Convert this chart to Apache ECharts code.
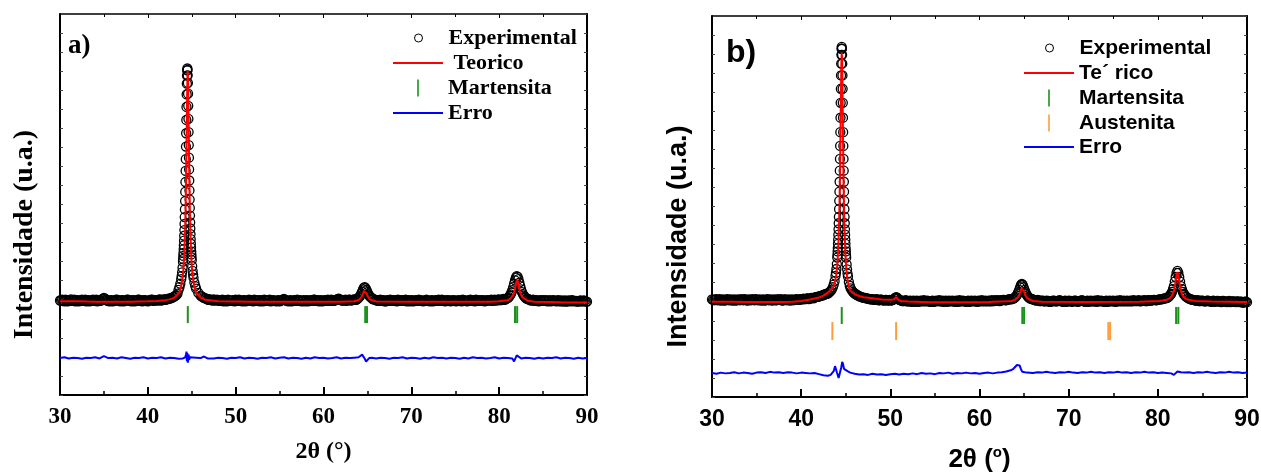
<!DOCTYPE html>
<html>
<head>
<meta charset="utf-8">
<title>DRX</title>
<script src="https://cdn.jsdelivr.net/npm/echarts@6/dist/echarts.min.js"></script>
<style>
  html, body { margin: 0; padding: 0; background: #fff; }
  #main { width: 1261px; height: 473px; }
</style>
</head>
<body>
<div id="main"></div>
<script>
// ---- painel a) : [2theta, intensidade (u.a.)] ----
var expA = [
  [30,24.8],[30.25,25.0],[30.5,24.6],[30.75,24.9],[31,24.7],[31.25,25.1],[31.5,24.8],[31.75,24.6],[32,24.9],[32.25,24.7],
  [32.5,25.0],[32.75,24.8],[33,24.6],[33.25,24.9],[33.5,24.7],[33.75,25.0],[34,24.8],[34.25,24.6],[34.5,24.9],[34.75,25.1],
  [35,25.5],[35.25,24.9],[35.5,24.7],[35.75,24.9],[36,24.6],[36.25,24.8],[36.5,25.0],[36.75,24.7],[37,24.9],[37.25,24.6],
  [37.5,24.8],[37.75,25.0],[38,24.7],[38.25,24.9],[38.5,24.6],[38.75,24.8],[39,25.0],[39.25,24.7],[39.5,24.9],[39.75,24.8],
  [40,24.6],[40.25,24.9],[40.5,25.0],[40.75,24.8],[41,24.9],[41.25,25.0],[41.5,24.8],[41.75,25.1],[42,25.0],[42.25,25.2],
  [42.5,25.3],[42.75,25.5],[43,25.8],[43.25,26.2],
  [43.5,27.6],[43.6,28.3],[43.7,29.2],[43.8,30.4],[43.85,31.2],[43.9,32.2],[43.95,33.4],[44.0,35.0],[44.02,35.7],[44.04,36.5],
  [44.06,37.3],[44.08,38.3],[44.1,39.3],[44.12,40.5],[44.14,41.8],[44.16,43.3],[44.18,44.9],[44.2,46.7],[44.22,48.7],[44.24,50.9],
  [44.26,53.3],[44.28,55.9],[44.3,58.8],[44.32,61.9],[44.34,65.2],[44.36,68.7],[44.38,72.2],[44.4,75.6],[44.42,78.9],[44.44,81.7],
  [44.46,83.8],[44.48,85.2],[44.5,85.7],[44.52,85.3],[44.54,83.9],[44.56,81.9],[44.58,79.1],[44.6,75.9],[44.62,72.5],[44.64,69.0],
  [44.66,65.6],[44.68,62.3],[44.7,59.2],[44.72,56.3],[44.74,53.7],[44.76,51.3],[44.78,49.1],[44.8,47.1],[44.82,45.3],[44.84,43.7],
  [44.86,42.2],[44.88,40.9],[44.9,39.7],[44.92,38.7],[44.94,37.7],[44.96,36.9],[44.98,36.1],[45.0,35.4],[45.05,33.8],[45.1,32.6],
  [45.15,31.6],[45.2,30.8],[45.3,29.5],[45.4,28.6],[45.5,27.9],[45.75,26.8],[46,26.1],[46.25,25.7],[46.5,25.4],[46.75,25.2],
  [47,25.0],[47.25,24.9],[47.5,25.1],[47.75,24.8],[48,24.9],[48.25,24.7],[48.5,25.0],[48.75,24.8],[49,24.6],[49.25,24.9],
  [49.5,24.7],[49.75,24.9],[50,25.0],[50.25,24.7],[50.5,24.8],[50.75,24.6],[51,24.9],[51.25,24.7],[51.5,25.0],[51.75,24.8],
  [52,24.6],[52.25,24.9],[52.5,24.8],[52.75,24.6],[53,24.9],[53.25,25.0],[53.5,24.7],[53.75,24.8],[54,24.6],[54.25,24.9],
  [54.5,24.7],[54.75,24.8],[55,24.6],[55.25,24.9],[55.5,25.2],[55.75,24.8],[56,24.6],[56.25,24.9],[56.5,24.7],[56.75,24.8],
  [57,25.0],[57.25,24.7],[57.5,24.6],[57.75,24.9],[58,24.8],[58.25,24.6],[58.5,24.9],[58.75,24.7],[59,25.0],[59.25,24.8],
  [59.5,24.6],[59.75,24.9],[60,24.7],[60.25,24.8],[60.5,25.0],[60.75,24.7],[61,24.9],[61.25,24.8],[61.5,25.0],[61.75,25.3],
  [62,24.9],[62.25,24.8],[62.5,25.0],[62.75,24.9],[63,25.0],[63.25,24.9],[63.5,25.1],
  [63.7,25.0],[63.8,25.1],[63.9,25.3],[64.0,25.5],[64.1,25.8],[64.2,26.1],[64.3,26.6],[64.4,27.1],[64.5,27.7],[64.6,28.2],
  [64.7,28.3],[64.8,28.0],[64.9,27.5],[65.0,27.0],[65.1,26.5],[65.2,26.1],[65.3,25.8],[65.4,25.6],[65.5,25.4],[65.6,25.2],
  [65.7,25.1],[65.9,25.0],[66.1,24.8],[66.35,24.9],[66.6,24.7],[66.85,24.9],[67.1,24.6],[67.35,24.8],[67.6,25.0],[67.85,24.7],
  [68.1,24.9],[68.35,24.6],[68.6,24.8],[68.85,24.9],[69.1,24.7],[69.35,25.0],[69.6,24.8],[69.85,24.6],[70.1,24.9],[70.35,24.7],
  [70.6,24.8],[70.85,25.0],[71.1,24.7],[71.35,24.6],[71.6,24.9],[71.85,24.8],[72.1,24.6],[72.35,24.9],[72.6,24.7],[72.85,24.8],
  [73.1,25.0],[73.35,24.7],[73.6,24.9],[73.85,24.6],[74.1,24.8],[74.35,24.9],[74.6,24.7],[74.85,24.8],[75.1,24.6],[75.35,24.9],
  [75.6,24.7],[75.85,25.0],[76.1,24.8],[76.35,24.6],[76.6,24.9],[76.85,24.7],[77.1,24.8],[77.35,25.0],[77.6,24.7],[77.85,24.9],
  [78.1,24.8],[78.35,24.6],[78.6,24.9],[78.85,24.8],[79.1,25.0],[79.35,24.8],[79.6,24.9],[79.85,25.0],[80.1,24.9],[80.35,25.1],
  [80.6,25.0],[80.85,25.3],
  [81.0,25.5],[81.1,25.7],[81.2,26.0],[81.3,26.4],[81.4,26.9],[81.5,27.5],[81.6,28.3],[81.7,29.2],[81.8,30.1],[81.9,30.8],
  [82.0,31.2],[82.1,31.0],[82.2,30.4],[82.3,29.5],[82.4,28.6],[82.5,27.7],[82.6,27.0],[82.7,26.5],[82.8,26.1],[82.9,25.8],
  [83.0,25.5],[83.25,25.2],[83.5,25.0],[83.75,24.9],[84,24.7],[84.25,24.9],[84.5,24.6],[84.75,24.8],[85,24.9],[85.25,24.7],
  [85.5,24.6],[85.75,24.9],[86,24.7],[86.25,24.8],[86.5,24.6],[86.75,24.9],[87,24.7],[87.25,24.5],[87.5,24.8],[87.75,24.6],
  [88,24.7],[88.25,24.9],[88.5,24.6],[88.75,24.7],[89,24.5],[89.25,24.8],[89.5,24.6],[89.75,24.7],[90,24.5],
  // intermediate scan points on the background
  [30.125,24.9],[30.375,24.7],[30.625,25.0],[30.875,24.6],[31.125,24.9],[31.375,24.7],[31.625,25.0],[31.875,24.8],[32.125,24.6],[32.375,24.9],
  [32.625,24.7],[32.875,25.0],[33.125,24.8],[33.375,24.6],[33.625,24.9],[33.875,24.7],[34.125,25.0],[34.375,24.8],[34.625,24.7],[34.875,25.2],
  [35.125,25.3],[35.375,24.8],[35.625,24.6],[35.875,24.9],[36.125,24.7],[36.375,25.0],[36.625,24.8],[36.875,24.6],[37.125,24.9],[37.375,24.7],
  [37.625,25.0],[37.875,24.8],[38.125,24.6],[38.375,24.9],[38.625,24.7],[38.875,25.0],[39.125,24.8],[39.375,24.6],[39.625,24.9],[39.875,24.7],
  [40.125,24.8],[40.375,25.0],[40.625,24.7],[40.875,24.9],[41.125,24.8],[41.375,25.1],[41.625,24.9],[41.875,25.0],[42.125,25.1],[42.375,25.3],
  [42.625,25.4],[42.875,25.7],[43.125,26.0],[43.375,26.6],
  [46.125,25.9],[46.375,25.5],[46.625,25.3],[46.875,25.0],[47.125,25.1],[47.375,24.8],[47.625,24.9],[47.875,25.0],[48.125,24.7],[48.375,24.9],
  [48.625,24.6],[48.875,24.8],[49.125,25.0],[49.375,24.7],[49.625,24.8],[49.875,24.6],[50.125,24.9],[50.375,25.0],[50.625,24.7],[50.875,24.9],
  [51.125,24.6],[51.375,24.8],[51.625,24.9],[51.875,24.7],[52.125,25.0],[52.375,24.7],[52.625,24.9],[52.875,24.8],[53.125,24.6],[53.375,24.9],
  [53.625,24.8],[53.875,25.0],[54.125,24.7],[54.375,24.8],[54.625,24.6],[54.875,24.9],[55.125,24.7],[55.375,25.0],[55.625,24.9],[55.875,24.7],
  [56.125,24.8],[56.375,24.6],[56.625,24.9],[56.875,24.7],[57.125,24.8],[57.375,24.9],[57.625,24.7],[57.875,24.6],[58.125,24.9],[58.375,24.7],
  [58.625,24.8],[58.875,25.0],[59.125,24.7],[59.375,24.9],[59.625,24.8],[59.875,24.6],[60.125,24.9],[60.375,24.7],[60.625,24.8],[60.875,25.0],
  [61.125,24.7],[61.375,24.9],[61.625,25.2],[61.875,25.0],[62.125,24.8],[62.375,24.9],[62.625,24.7],[62.875,25.0],[63.125,24.8],[63.375,25.0],
  [63.6,25.0],
  [66.0,24.9],[66.225,24.7],[66.475,25.0],[66.725,24.8],[66.975,24.6],[67.225,24.9],[67.475,24.7],[67.725,24.9],[67.975,24.8],[68.225,24.7],
  [68.475,25.0],[68.725,24.7],[68.975,24.8],[69.225,24.9],[69.475,24.6],[69.725,24.9],[69.975,24.8],[70.225,24.6],[70.475,24.9],[70.725,24.7],
  [70.975,24.9],[71.225,24.8],[71.475,24.7],[71.725,25.0],[71.975,24.7],[72.225,24.8],[72.475,24.6],[72.725,24.9],[72.975,24.7],[73.225,24.8],
  [73.475,25.0],[73.725,24.7],[73.975,24.9],[74.225,24.7],[74.475,24.6],[74.725,24.9],[74.975,24.8],[75.225,24.7],[75.475,24.8],[75.725,24.6],
  [75.975,24.9],[76.225,24.7],[76.475,24.8],[76.725,25.0],[76.975,24.8],[77.225,24.6],[77.475,24.9],[77.725,24.8],[77.975,24.7],[78.225,24.9],
  [78.475,24.7],[78.725,24.8],[78.975,24.9],[79.225,24.7],[79.475,25.0],[79.725,24.8],[79.975,25.1],[80.225,24.9],[80.475,25.2],[80.725,25.1],
  [80.925,25.4],
  [83.125,25.3],[83.375,25.1],[83.625,24.8],[83.875,25.0],[84.125,24.8],[84.375,24.7],[84.625,24.9],[84.875,24.7],[85.125,24.8],[85.375,24.9],
  [85.625,24.7],[85.875,24.6],[86.125,24.9],[86.375,24.7],[86.625,24.8],[86.875,24.6],[87.125,24.8],[87.375,24.7],[87.625,24.5],[87.875,24.8],
  [88.125,24.6],[88.375,24.8],[88.625,24.7],[88.875,24.5],[89.125,24.7],[89.375,24.6],[89.625,24.8],[89.875,24.5]
];
var calcA = [
  [30,24.6],[32,24.6],[34,24.5],[36,24.5],[38,24.5],[40,24.6],[41,24.7],[42,24.9],[42.5,25.1],[43,25.5],
  [43.54,26.7],[43.74,28.0],[43.94,30.5],[44.04,32.8],[44.14,36.5],[44.24,43.1],[44.29,48.0],[44.34,54.7],[44.39,63.2],[44.44,72.9],
  [44.47,77.6],[44.49,81.4],[44.52,84.1],[44.54,85.0],[44.56,84.1],[44.59,81.4],[44.61,77.6],[44.64,72.9],[44.69,63.2],[44.74,54.7],
  [44.79,48.0],[44.84,43.1],[44.94,36.5],[45.04,32.8],[45.14,30.5],[45.34,28.0],[45.54,26.7],[46.04,25.5],[46.54,25.0],[48,24.6],
  [52,24.5],[56,24.5],[60,24.5],[62,24.5],[63.5,24.6],[64,24.95],[64.3,25.6],[64.4,26.0],[64.5,26.6],[64.6,27.3],
  [64.7,27.6],[64.8,27.3],[64.9,26.6],[65,26.0],[65.1,25.6],[65.3,25.05],[65.5,24.8],[66,24.55],[70,24.5],[75,24.45],
  [79,24.5],[80,24.6],[81,24.9],[81.3,25.3],[81.5,25.7],[81.65,26.5],[81.75,27.3],[81.85,28.4],[81.95,29.6],[82.05,30.2],
  [82.15,29.6],[82.25,28.4],[82.35,27.3],[82.45,26.5],[82.65,25.6],[82.85,25.1],[83.25,24.75],[84,24.5],[87,24.35],[90,24.3]
];
var errA = [
  [30,9.7],[30.5,9.9],[31,9.6],[31.5,9.8],[32,9.7],[32.5,9.5],[33,9.8],[33.5,9.7],[34,9.9],[34.5,9.6],
  [35,10.2],[35.5,9.7],[36,9.8],[36.5,9.6],[37,9.9],[37.5,9.7],[38,9.5],[38.5,9.8],[39,9.7],[39.5,9.9],
  [40,9.6],[40.5,9.8],[41,9.7],[41.5,9.9],[42,9.6],[42.5,9.8],[43,9.7],[43.5,9.5],[44,9.6],[44.25,9.9],
  [44.35,10.6],[44.4,11.4],[44.45,8.9],[44.5,11.0],[44.55,8.5],[44.6,9.2],[44.65,10.6],[44.7,9.3],[44.8,9.9],[45,9.6],
  [45.5,9.8],[46,9.7],[46.4,10.1],[46.8,9.6],[47,9.8],[47.5,9.6],[48,9.8],[48.5,9.7],[49,9.5],[49.5,9.8],
  [50,9.7],[50.5,9.9],[51,9.6],[51.5,9.8],[52,9.7],[52.5,9.5],[53,9.8],[53.5,9.7],[54,9.9],[54.5,9.6],
  [55,9.8],[55.5,9.9],[56,9.6],[56.5,9.8],[57,9.7],[57.5,9.5],[58,9.8],[58.5,9.6],[59,9.9],[59.5,9.7],
  [60,9.8],[60.5,9.6],[61,9.7],[61.5,9.9],[62,9.6],[62.5,9.8],[63,9.7],[63.5,9.8],[64,9.9],[64.2,10.2],
  [64.4,10.6],[64.55,10.3],[64.7,9.5],[64.85,8.8],[65,9.3],[65.2,9.7],[65.5,9.8],[66,9.6],[66.5,9.8],[67,9.7],
  [67.5,9.5],[68,9.8],[68.5,9.7],[69,9.9],[69.5,9.6],[70,9.8],[70.5,9.7],[71,9.5],[71.5,9.8],[72,9.6],
  [72.5,9.9],[73,9.7],[73.5,9.8],[74,9.6],[74.5,9.8],[75,9.7],[75.5,9.5],[76,9.8],[76.5,9.6],[77,9.9],
  [77.5,9.7],[78,9.8],[78.5,9.6],[79,9.7],[79.5,9.9],[80,9.6],[80.5,9.8],[81,9.7],[81.5,9.6],[81.7,8.8],
  [81.8,9.2],[82,10.4],[82.1,10.8],[82.25,10.0],[82.5,9.6],[83,9.8],[83.5,9.7],[84,9.5],[84.5,9.8],[85,9.6],
  [85.5,9.8],[86,9.7],[86.5,9.9],[87,9.6],[87.5,9.8],[88,9.7],[88.5,9.5],[89,9.8],[89.5,9.6],[90,9.7]
];
var marA = [44.55, 64.75, 64.95, 81.8, 82.05];
var marLevelA = 21.1;

// ---- painel b) ----
var expB = [
  [30,25.6],[30.25,25.4],[30.5,25.7],[30.75,25.5],[31,25.3],[31.25,25.6],[31.5,25.4],[31.75,25.7],[32,25.5],[32.25,25.3],
  [32.5,25.6],[32.75,25.4],[33,25.5],[33.25,25.7],[33.5,25.4],[33.75,25.6],[34,25.3],[34.25,25.5],[34.5,25.7],[34.75,25.4],
  [35,25.6],[35.25,25.5],[35.5,25.3],[35.75,25.6],[36,25.4],[36.25,25.7],[36.5,25.5],[36.75,25.3],[37,25.6],[37.25,25.4],
  [37.5,25.5],[37.75,25.7],[38,25.4],[38.25,25.6],[38.5,25.5],[38.75,25.3],[39,25.6],[39.25,25.5],[39.5,25.7],[39.75,25.5],
  [40,25.6],[40.25,25.8],[40.5,25.7],[40.75,25.9],[41,25.8],[41.25,26.0],[41.5,26.1],[41.75,26.3],[42,26.4],[42.25,26.6],
  [42.5,26.8],[42.75,27.0],[43.05,27.2],[43.3,27.8],[43.55,28.8],[43.65,29.5],[43.75,30.4],[43.85,31.8],[43.9,32.6],[43.95,33.6],
  [44.0,34.9],[44.05,36.6],[44.07,37.3],[44.09,38.2],[44.11,39.1],[44.13,40.2],[44.15,41.3],[44.17,42.6],[44.19,44.0],[44.21,45.6],
  [44.23,47.3],[44.25,49.3],[44.27,51.5],[44.29,53.9],[44.31,56.5],[44.33,59.4],[44.35,62.5],[44.37,65.9],[44.39,69.5],[44.41,73.3],
  [44.43,77.2],[44.45,80.9],[44.47,84.4],[44.49,87.5],[44.51,89.8],[44.53,91.4],[44.55,91.9],[44.57,91.4],[44.59,89.8],[44.61,87.5],
  [44.63,84.4],[44.65,80.9],[44.67,77.2],[44.69,73.3],[44.71,69.5],[44.73,65.9],[44.75,62.5],[44.77,59.4],[44.79,56.5],[44.81,53.9],
  [44.83,51.5],[44.85,49.3],[44.87,47.3],[44.89,45.6],[44.91,44.0],[44.93,42.6],[44.95,41.3],[44.97,40.2],[44.99,39.1],[45.01,38.2],
  [45.03,37.3],[45.05,36.6],[45.1,34.8],[45.15,33.5],[45.2,32.4],[45.25,31.6],[45.35,30.2],[45.45,29.2],[45.55,28.5],[45.8,27.6],
  [46.05,27.1],[46.3,26.7],[46.55,26.4],[46.8,26.2],[47.05,26.0],[47.3,25.9],[47.55,25.8],[47.8,25.6],[48.05,25.7],[48.3,25.5],
  [48.55,25.6],[48.8,25.4],[49.05,25.5],[49.3,25.3],[49.55,25.5],[49.8,25.4],[50.05,25.3],[50.3,25.5],[50.45,25.8],[50.55,26.0],
  [50.65,26.2],[50.75,26.1],[50.85,25.8],[51.0,25.5],[51.25,25.3],[51.5,25.2],[51.75,25.4],[52,25.1],[52.25,25.3],[52.5,25.2],
  [52.75,25.0],[53,25.3],[53.25,25.1],[53.5,25.2],[53.75,25.4],[54,25.1],[54.25,25.2],[54.5,25.0],[54.75,25.3],[55,25.1],
  [55.25,25.2],[55.5,25.4],[55.75,25.1],[56,25.0],[56.25,25.3],[56.5,25.2],[56.75,25.1],[57,25.3],[57.25,25.0],[57.5,25.2],
  [57.75,25.4],[58,25.1],[58.25,25.2],[58.5,25.0],[58.75,25.3],[59,25.2],[59.25,25.1],[59.5,25.3],[59.75,25.0],[60,25.2],
  [60.25,25.4],[60.5,25.1],[60.75,25.2],[61,25.3],[61.25,25.1],[61.5,25.2],[61.75,25.4],[62,25.3],[62.25,25.2],[62.5,25.4],
  [62.75,25.5],[63,25.4],[63.25,25.6],[63.5,25.6],
  [63.75,25.8],[63.85,25.9],[63.95,26.1],[64.05,26.3],[64.15,26.6],[64.25,27.0],[64.35,27.5],[64.45,28.1],[64.55,28.8],[64.65,29.4],
  [64.75,29.7],[64.85,29.4],[64.95,28.8],[65.05,28.1],[65.15,27.5],[65.25,27.0],[65.35,26.6],[65.45,26.3],[65.55,26.1],[65.65,25.9],
  [65.75,25.8],[66,25.6],[66.25,25.4],[66.5,25.5],[66.75,25.2],[67,25.3],[67.25,25.1],[67.5,25.3],[67.75,25.2],[68,25.0],
  [68.25,25.3],[68.5,25.1],[68.75,25.2],[69,25.4],[69.25,25.1],[69.5,25.2],[69.75,25.0],[70,25.3],[70.25,25.2],[70.5,25.1],
  [70.75,25.3],[71,25.0],[71.25,25.2],[71.5,25.4],[71.75,25.1],[72,25.2],[72.25,25.0],[72.5,25.3],[72.75,25.1],[73,25.2],
  [73.25,25.4],[73.5,25.1],[73.75,25.2],[74,25.0],[74.25,25.3],[74.5,25.2],[74.75,25.1],[75,25.3],[75.25,25.0],[75.5,25.2],
  [75.75,25.4],[76,25.1],[76.25,25.2],[76.5,25.3],[76.75,25.1],[77,25.2],[77.25,25.4],[77.5,25.2],[77.75,25.3],[78,25.1],
  [78.25,25.3],[78.5,25.4],[78.75,25.2],[79,25.4],[79.25,25.3],[79.5,25.5],[79.75,25.4],[80,25.5],[80.25,25.6],[80.5,25.7],
  [80.75,25.9],[81,26.0],
  [81.2,26.3],[81.3,26.5],[81.4,26.8],[81.5,27.1],[81.6,27.6],[81.7,28.3],[81.8,29.1],[81.9,30.3],[82.0,31.5],[82.1,32.6],
  [82.2,33.1],[82.3,32.6],[82.4,31.5],[82.5,30.3],[82.6,29.1],[82.7,28.3],[82.8,27.6],[82.9,27.1],[83.0,26.8],[83.1,26.5],
  [83.2,26.3],[83.5,25.8],[83.75,25.6],[84,25.5],[84.25,25.3],[84.5,25.4],[84.75,25.2],[85,25.3],[85.25,25.1],[85.5,25.3],
  [85.75,25.2],[86,25.0],[86.25,25.3],[86.5,25.1],[86.75,25.2],[87,25.0],[87.25,25.2],[87.5,25.1],[87.75,24.9],[88,25.2],
  [88.25,25.0],[88.5,25.1],[88.75,24.9],[89,25.1],[89.25,25.0],[89.5,24.8],[89.75,25.0],[90,24.9],
  // intermediate scan points on the background
  [30.125,25.5],[30.375,25.6],[30.625,25.4],[30.875,25.7],[31.125,25.5],[31.375,25.3],[31.625,25.6],[31.875,25.4],[32.125,25.6],[32.375,25.5],
  [32.625,25.3],[32.875,25.6],[33.125,25.4],[33.375,25.5],[33.625,25.7],[33.875,25.4],[34.125,25.6],[34.375,25.4],[34.625,25.5],[34.875,25.7],
  [35.125,25.4],[35.375,25.6],[35.625,25.5],[35.875,25.3],[36.125,25.6],[36.375,25.4],[36.625,25.6],[36.875,25.5],[37.125,25.4],[37.375,25.7],
  [37.625,25.5],[37.875,25.3],[38.125,25.6],[38.375,25.4],[38.625,25.6],[38.875,25.5],[39.125,25.4],[39.375,25.6],[39.625,25.5],[39.875,25.7],
  [40.125,25.6],[40.375,25.7],[40.625,25.9],[40.875,25.7],[41.125,26.0],[41.375,25.9],[41.625,26.2],[41.875,26.3],[42.125,26.5],[42.375,26.6],
  [42.625,26.9],[42.875,27.1],[43.175,27.5],[43.425,28.2],
  [45.675,28.0],[45.925,27.3],[46.175,26.9],[46.425,26.6],[46.675,26.3],[46.925,26.1],[47.175,26.0],[47.425,25.8],[47.675,25.7],[47.925,25.6],
  [48.175,25.5],[48.425,25.7],[48.675,25.4],[48.925,25.6],[49.175,25.4],[49.425,25.5],[49.675,25.3],[49.925,25.5],[50.175,25.4],[51.125,25.4],
  [51.375,25.2],[51.625,25.3],[51.875,25.1],[52.125,25.2],[52.375,25.0],[52.625,25.3],[52.875,25.2],[53.125,25.0],[53.375,25.3],[53.625,25.1],
  [53.875,25.2],[54.125,25.3],[54.375,25.1],[54.625,25.2],[54.875,25.0],[55.125,25.3],[55.375,25.2],[55.625,25.1],[55.875,25.3],[56.125,25.2],
  [56.375,25.0],[56.625,25.3],[56.875,25.2],[57.125,25.1],[57.375,25.3],[57.625,25.0],[57.875,25.2],[58.125,25.3],[58.375,25.1],[58.625,25.2],
  [58.875,25.0],[59.125,25.3],[59.375,25.2],[59.625,25.1],[59.875,25.3],[60.125,25.1],[60.375,25.2],[60.625,25.3],[60.875,25.1],[61.125,25.2],
  [61.375,25.4],[61.625,25.2],[61.875,25.3],[62.125,25.4],[62.375,25.3],[62.625,25.5],[62.875,25.4],[63.125,25.5],[63.375,25.7],[63.625,25.7],
  [65.875,25.7],[66.125,25.5],[66.375,25.3],[66.625,25.4],[66.875,25.2],[67.125,25.3],[67.375,25.1],[67.625,25.2],[67.875,25.0],[68.125,25.2],
  [68.375,25.3],[68.625,25.1],[68.875,25.3],[69.125,25.2],[69.375,25.0],[69.625,25.3],[69.875,25.1],[70.125,25.2],[70.375,25.0],[70.625,25.3],
  [70.875,25.2],[71.125,25.1],[71.375,25.3],[71.625,25.2],[71.875,25.0],[72.125,25.3],[72.375,25.2],[72.625,25.1],[72.875,25.3],[73.125,25.0],
  [73.375,25.2],[73.625,25.3],[73.875,25.1],[74.125,25.2],[74.375,25.0],[74.625,25.3],[74.875,25.2],[75.125,25.1],[75.375,25.3],[75.625,25.1],
  [75.875,25.2],[76.125,25.3],[76.375,25.1],[76.625,25.2],[76.875,25.3],[77.125,25.1],[77.375,25.3],[77.625,25.2],[77.875,25.4],[78.125,25.2],
  [78.375,25.3],[78.625,25.2],[78.875,25.4],[79.125,25.3],[79.375,25.4],[79.625,25.5],[79.875,25.4],[80.125,25.6],[80.375,25.6],[80.625,25.8],
  [80.875,25.9],[81.1,26.1],
  [83.35,26.0],[83.625,25.7],[83.875,25.5],[84.125,25.4],[84.375,25.3],[84.625,25.2],[84.875,25.3],[85.125,25.2],[85.375,25.1],[85.625,25.3],
  [85.875,25.1],[86.125,25.2],[86.375,25.0],[86.625,25.2],[86.875,25.1],[87.125,24.9],[87.375,25.2],[87.625,25.0],[87.875,25.1],[88.125,24.9],
  [88.375,25.1],[88.625,25.0],[88.875,25.1],[89.125,24.9],[89.375,25.0],[89.625,24.8],[89.875,25.0]
];
var calcB = [
  [30,25.0],[32,25.0],[34,24.95],[36,24.95],[38,24.95],[39,25.0],[40,25.2],[41,25.6],[42,26.1],[42.5,26.6],
  [43.0,27.4],[43.55,28.7],[43.75,29.9],[43.95,32.3],[44.05,34.6],[44.15,38.5],[44.25,45.4],[44.3,50.7],[44.35,57.9],[44.4,66.9],
  [44.45,77.2],[44.48,82.3],[44.5,86.4],[44.53,89.3],[44.55,90.3],[44.58,89.3],[44.6,86.4],[44.63,82.3],[44.65,77.2],[44.7,66.8],
  [44.75,57.7],[44.8,50.5],[44.85,45.1],[44.95,38.1],[45.05,34.0],[45.15,31.5],[45.35,28.9],[45.55,27.8],[46.05,26.9],[46.5,26.5],
  [47,26.2],[48,25.9],[49,25.6],[50,25.5],[50.4,25.6],[50.55,26.0],[50.65,26.2],[50.75,26.0],[50.9,25.5],[51.2,25.2],
  [52,25.05],[54.4,24.9],[58,24.9],[61,24.95],[63,25.1],[63.6,25.2],[64,25.5],[64.2,25.8],[64.4,26.4],[64.5,27.0],
  [64.6,27.7],[64.7,28.5],[64.8,28.9],[64.9,28.5],[65,27.7],[65.1,27.0],[65.2,26.4],[65.4,25.8],[65.6,25.5],[66,25.2],
  [67,25.0],[72,24.95],[78,25.0],[80.2,25.2],[81,25.5],[81.4,26.0],[81.6,26.6],[81.8,27.8],[81.9,28.9],[82,30.4],
  [82.1,32.0],[82.2,32.8],[82.3,32.0],[82.4,30.4],[82.5,28.9],[82.6,27.8],[82.8,26.6],[83,26.0],[83.4,25.5],[84.2,25.2],
  [86,25.05],[90,24.95]
];
var errB = [
  [30,6.3],[30.5,6.1],[31,6.4],[31.5,6.2],[32,6.3],[32.5,6.5],[33,6.2],[33.5,6.4],[34,6.3],[34.5,6.1],
  [35,6.4],[35.5,6.5],[36,6.3],[36.5,6.6],[37,6.4],[37.5,6.5],[38,6.3],[38.5,6.5],[39,6.4],[39.5,6.2],
  [40,6.4],[40.5,6.3],[41,6.2],[41.5,6.3],[42,6.0],[42.5,5.7],[43,5.6],[43.3,5.8],[43.5,6.1],[43.65,6.8],
  [43.8,8.1],[43.9,7.6],[44.0,6.5],[44.1,5.8],[44.2,5.0],[44.3,4.5],[44.4,5.3],[44.5,7.8],[44.6,9.2],[44.7,8.6],
  [44.8,7.4],[44.9,7.0],[45.0,7.2],[45.2,6.8],[45.5,6.4],[46,6.1],[46.5,5.9],[47,6.0],[47.5,5.8],[48,6.1],
  [48.5,5.9],[49,6.0],[49.5,5.8],[50,6.0],[50.5,6.1],[51,5.9],[51.5,6.1],[52,6.0],[52.5,6.2],[53,6.0],
  [53.5,6.3],[54,6.1],[54.5,6.2],[55,6.0],[55.5,6.3],[56,6.2],[56.5,6.4],[57,6.1],[57.5,6.3],[58,6.2],
  [58.5,6.4],[59,6.2],[59.5,6.3],[60,6.1],[60.5,6.3],[61,6.4],[61.5,6.2],[62,6.4],[62.5,6.5],[63,6.7],
  [63.5,7.0],[63.8,7.4],[64,7.8],[64.2,8.4],[64.35,8.7],[64.5,8.3],[64.65,7.3],[64.8,6.6],[65,6.2],[65.3,6.4],
  [65.5,6.5],[66,6.3],[66.5,6.5],[67,6.4],[67.5,6.6],[68,6.4],[68.5,6.3],[69,6.5],[69.5,6.4],[70,6.6],
  [70.5,6.4],[71,6.3],[71.5,6.5],[72,6.4],[72.5,6.6],[73,6.4],[73.5,6.5],[74,6.3],[74.5,6.5],[75,6.4],
  [75.5,6.6],[76,6.4],[76.5,6.5],[77,6.3],[77.5,6.5],[78,6.4],[78.5,6.6],[79,6.4],[79.5,6.5],[80,6.3],
  [80.5,6.4],[81,6.3],[81.5,6.2],[81.8,5.8],[81.9,5.5],[82,5.9],[82.2,6.7],[82.35,6.8],[82.6,6.5],[83,6.4],
  [83.5,6.5],[84,6.3],[84.5,6.5],[85,6.4],[85.5,6.6],[86,6.4],[86.5,6.3],[87,6.5],[87.5,6.4],[88,6.6],
  [88.5,6.4],[89,6.5],[89.5,6.3],[90,6.4]
];
var marB = [44.55, 64.8, 65.0, 82.05, 82.3];
var marLevelB = 21.4;
var ausB = [43.5, 50.65, 74.45, 74.65];
var ausLevelB = 17.3;

var GREEN = '#1c911c';
var ORANGE = '#ff9c3c';
var SERIF = 'Liberation Serif';
var SANS = 'Liberation Sans';

var chartDom = document.getElementById('main');
var myChart = echarts.init(chartDom);
var option;

function bottomAxis(grid, font, name, nameGap, nameSize, rich) {
  return {
    gridIndex: grid, type: 'value', position: 'bottom',
    min: 30, max: 90, interval: 10,
    axisLine: { onZero: false, lineStyle: { color: '#000', width: 2 } },
    axisTick: { inside: true, length: 8, lineStyle: { color: '#000', width: 2 } },
    minorTick: { show: true, splitNumber: 2, length: 4, lineStyle: { color: '#000', width: 1.5 } },
    splitLine: { show: false },
    axisLabel: { margin: 11, color: '#000', fontFamily: font, fontWeight: 'bold', fontSize: 23 },
    name: name, nameLocation: 'middle', nameGap: nameGap,
    nameTextStyle: { color: '#000', fontFamily: font, fontWeight: 'bold', fontSize: nameSize, rich: rich }
  };
}
function topAxis(grid) {
  return {
    gridIndex: grid, type: 'value', position: 'top',
    min: 30, max: 90, interval: 10,
    axisLine: { onZero: false, lineStyle: { color: '#000', width: 1.5 } },
    axisTick: { inside: true, length: 4, lineStyle: { color: '#000', width: 1 } },
    minorTick: { show: true, splitNumber: 2, length: 3, lineStyle: { color: '#000', width: 1 } },
    splitLine: { show: false },
    axisLabel: { show: false }
  };
}
function sideAxis(grid, pos, font, name, nameGap, nameSize) {
  var ax = {
    gridIndex: grid, type: 'value', position: pos,
    min: 0, max: 100, interval: 5,
    axisLine: { show: true, onZero: false, lineStyle: { color: '#000', width: 2 } },
    axisTick: { show: true, inside: true, length: 3, lineStyle: { color: '#444', width: 1 } },
    splitLine: { show: false },
    axisLabel: { show: false }
  };
  if (name) {
    ax.name = name;
    ax.nameLocation = 'middle';
    ax.nameGap = nameGap;
    ax.nameTextStyle = { color: '#000', fontFamily: font, fontWeight: 'bold', fontSize: nameSize, padding: [0, 60, 0, 0] };
  }
  return ax;
}
function legendRow(item, left, cy, font, size, h, fmt) {
  return {
    data: [item], left: left, top: cy - size / 2, padding: 0,
    itemWidth: 50, itemHeight: h, selectedMode: false,
    formatter: fmt || '{name}',
    textStyle: { color: '#000', fontFamily: font, fontWeight: 'bold', fontSize: size }
  };
}
function ticks(xs, level) {
  return xs.map(function (x) { return [x, level]; });
}

// legend icons, 50 wide so every label starts at the same place
var circleIcon = 'path://M0,5L0,5M50,5L50,5M21,5a4,4 0 1,0 8,0a4,4 0 1,0 -8,0z';
var barIcon = 'path://M0,0L0,0M50,17L50,17M24.2,0h1.6v17h-1.6z';
var lineIcon = 'path://M0,0h50v2h-50z';
function expItem() {
  return { name: 'Experimental', icon: circleIcon, itemStyle: { color: 'rgba(0,0,0,0)', borderColor: '#000', borderWidth: 1 } };
}
function lineItem(name, color) {
  return { name: name, icon: lineIcon, itemStyle: { color: color, borderWidth: 0 } };
}
function barItem(name, color) {
  return { name: name, icon: barIcon, itemStyle: { color: color, borderWidth: 0 } };
}

var circleStyle = { color: 'rgba(0,0,0,0)', borderColor: '#000', borderWidth: 1.3, opacity: 1 };

option = {
  animation: false,
  backgroundColor: '#fff',
  title: [
    { text: 'a)', left: 68, top: 33, padding: 0, textStyle: { fontFamily: SERIF, fontWeight: 'bold', fontSize: 27, color: '#000' } },
    { text: 'b)', left: 726, top: 37, padding: 0, textStyle: { fontFamily: SANS, fontWeight: 'bold', fontSize: 32, color: '#000' } }
  ],
  grid: [
    { left: 60, top: 14, width: 527, height: 381, outerBoundsMode: 'none' },
    { left: 712, top: 16, width: 535, height: 381, outerBoundsMode: 'none' }
  ],
  xAxis: [
    bottomAxis(0, SERIF, '2θ (°)', 45, 24),
    topAxis(0),
    bottomAxis(1, SANS, '2θ ({o|o})', 48, 26, { o: { fontFamily: SANS, fontWeight: 'bold', fontSize: 15, verticalAlign: 'top', lineHeight: 30 } }),
    topAxis(1)
  ],
  yAxis: [
    sideAxis(0, 'left', SERIF, 'Intensidade (u.a.)', 21, 28),
    sideAxis(0, 'right'),
    sideAxis(1, 'left', SANS, 'Intensidade (u.a.)', 20, 27),
    sideAxis(1, 'right')
  ],
  legend: [
    legendRow(expItem(), 393, 38, SERIF, 22, 10),
    legendRow(lineItem('Teorico', '#ff0000'), 393, 63, SERIF, 22, 2, ' {name}'),
    legendRow(barItem('Martensita', GREEN), 393, 88, SERIF, 22, 17),
    legendRow(lineItem('Erro', '#0000ff'), 393, 113, SERIF, 22, 2),
    legendRow(expItem(), 1024, 48, SANS, 21, 10),
    legendRow(lineItem('Te´ rico', '#ff0000'), 1024, 73, SANS, 21, 2),
    legendRow(barItem('Martensita', GREEN), 1024, 98, SANS, 21, 17),
    legendRow(barItem('Austenita', ORANGE), 1024, 123, SANS, 21, 17),
    legendRow(lineItem('Erro', '#0000ff'), 1024, 147, SANS, 21, 2)
  ],
  series: [
    { name: 'Experimental', type: 'scatter', xAxisIndex: 0, yAxisIndex: 0, data: expA, symbol: 'circle', symbolSize: 9,
      itemStyle: circleStyle, z: 2, silent: true },
    { name: 'Teorico', type: 'line', xAxisIndex: 0, yAxisIndex: 0, data: calcA, symbol: 'none',
      lineStyle: { color: '#ff0000', width: 2 }, itemStyle: { color: '#ff0000' }, z: 3, silent: true },
    { name: 'Martensita', type: 'scatter', xAxisIndex: 0, yAxisIndex: 0, data: ticks(marA, marLevelA), symbol: 'rect', symbolSize: [2, 17],
      itemStyle: { color: GREEN, opacity: 1 }, z: 3, silent: true },
    { name: 'Erro', type: 'line', xAxisIndex: 0, yAxisIndex: 0, data: errA, symbol: 'none',
      lineStyle: { color: '#0000ff', width: 2 }, itemStyle: { color: '#0000ff' }, z: 3, silent: true },

    { name: 'Experimental', type: 'scatter', xAxisIndex: 2, yAxisIndex: 2, data: expB, symbol: 'circle', symbolSize: 9,
      itemStyle: circleStyle, z: 2, silent: true },
    { name: 'Te´ rico', type: 'line', xAxisIndex: 2, yAxisIndex: 2, data: calcB, symbol: 'none',
      lineStyle: { color: '#ff0000', width: 2 }, itemStyle: { color: '#ff0000' }, z: 3, silent: true },
    { name: 'Martensita', type: 'scatter', xAxisIndex: 2, yAxisIndex: 2, data: ticks(marB, marLevelB), symbol: 'rect', symbolSize: [2, 17],
      itemStyle: { color: GREEN, opacity: 1 }, z: 3, silent: true },
    { name: 'Austenita', type: 'scatter', xAxisIndex: 2, yAxisIndex: 2, data: ticks(ausB, ausLevelB), symbol: 'rect', symbolSize: [2, 18],
      itemStyle: { color: ORANGE, opacity: 1 }, z: 3, silent: true },
    { name: 'Erro', type: 'line', xAxisIndex: 2, yAxisIndex: 2, data: errB, symbol: 'none',
      lineStyle: { color: '#0000ff', width: 2 }, itemStyle: { color: '#0000ff' }, z: 3, silent: true }
  ]
};
myChart.setOption(option);
</script>
</body>
</html>
